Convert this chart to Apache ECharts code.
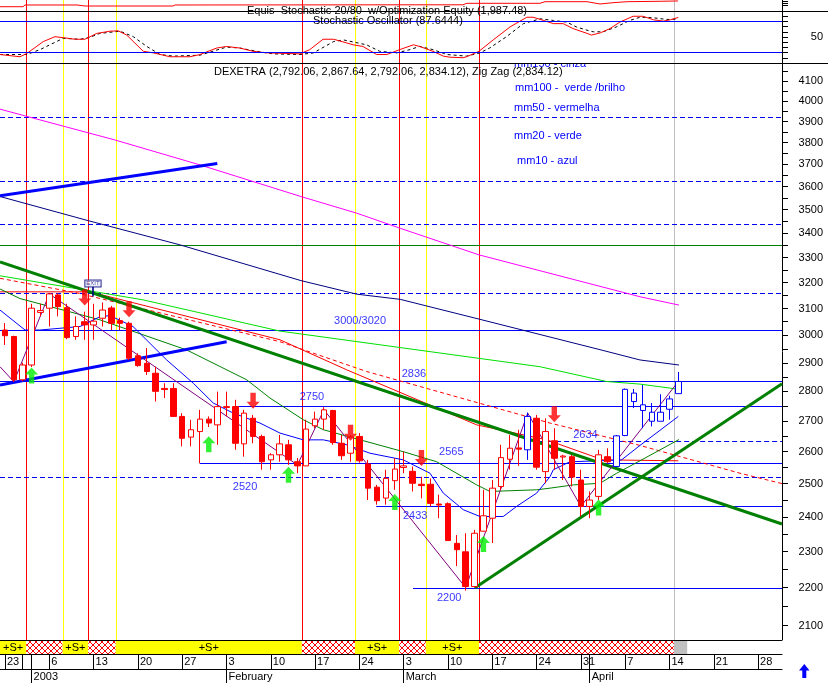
<!DOCTYPE html>
<html>
<head>
<meta charset="utf-8">
<script src="https://cdn.jsdelivr.net/npm/echarts@6.0.0/dist/echarts.min.js"></script>
<style>
html,body{margin:0;padding:0;background:#fff;}
#chart{width:828px;height:683px;}
</style>
</head>
<body>
<div id="chart"></div>
<script>
// ================= DATA =================
// trading-day index 0 = 26 Dec 2002 ... 76 = 15 Apr 2003
const candleOpen  = [3019,2995,2840,2892,3085,3101,3152,3103,2995,3050,3038,3063,3102,3054,3044,2925,2898,2863,2810,2810,2715,2647,2665,2706,2687,2745,2748,2625,2709,2649,2574,2590,2622,2568,2555,2684,2706,2735,2627,2595,2649,2561,2489,2456,2509,2550,2538,2498,2498,2438,2439,2323,2299,2203,2358,2396,2491,2576,2612,2606,2709,2537,2635,2583,2584,2511,2431,2461,2584,2553,2652,2794,2754,2729,2699,2739,2792.06];
const candleHigh  = [3045,2998,2900,3118,3118,3160,3158,3118,3070,3088,3118,3123,3110,3065,3050,2934,2953,2886,2828,2828,2726,2704,2737,2715,2799,2799,2771,2737,2720,2655,2595,2654,2638,2580,2704,2731,2746,2737,2654,2654,2660,2574,2496,2543,2579,2600,2553,2521,2516,2466,2443,2347,2352,2362,2481,2511,2622,2654,2671,2728,2720,2709,2676,2590,2590,2543,2476,2606,2611,2654,2810,2808,2822,2760,2790,2785,2867.64];
const candleLow   = [2964,2833,2835,2885,3070,3032,3070,2985,2983,2983,2983,3032,3019,3019,2910,2886,2857,2765,2777,2715,2617,2617,2563,2680,2622,2715,2606,2584,2627,2543,2543,2568,2558,2532,2555,2676,2671,2622,2574,2568,2565,2450,2436,2436,2481,2532,2476,2455,2431,2396,2331,2259,2192,2200,2357,2324,2481,2543,2555,2574,2543,2501,2543,2511,2491,2401,2396,2450,2563,2553,2650,2743,2676,2682,2699,2704,2792.06];
const candleClose = [2998,2840,2892,3101,3092,3156,3107,2991,3032,3038,3052,3094,3044,3044,2916,2890,2869,2800,2806,2715,2643,2671,2706,2693,2748,2748,2627,2726,2649,2568,2590,2625,2574,2555,2673,2706,2737,2629,2587,2647,2571,2486,2448,2516,2545,2555,2501,2494,2440,2435,2331,2305,2203,2352,2403,2486,2581,2611,2608,2715,2551,2665,2579,2586,2520,2431,2450,2590,2568,2651,2807,2765,2735,2699,2729,2774,2834.12];
const blueCandles = [59,69,70,71,72,73,74,75,76];

// moving averages / indicator lines: [trading-day index, price]
const ma10 = [[-0.56,3094],[2.26,3019],[3.95,3019],[8.47,3032],[10.72,3069],[11.85,3073],[14.45,3032],[18.25,2910],[21.25,2828],[23.51,2760],[25.77,2726],[28.78,2693],[31.04,2660],[33.67,2638],[35.93,2638],[38.57,2622],[41.2,2595],[44.95,2574],[47.97,2532],[49.47,2471],[51.73,2421],[53.61,2401],[56.24,2401],[57.75,2431],[60.01,2471],[61.51,2521],[61.89,2543],[63.77,2568],[67.16,2571],[69.6,2574],[71.67,2620],[76,2715]];
const ma20 = [[-0.56,3175],[1.69,3138],[10.72,3057],[20.51,2946],[27.28,2840],[29.91,2777],[33.67,2704],[35.93,2671],[44.95,2600],[48.72,2568],[53.24,2496],[54.74,2476],[60.01,2481],[61.51,2486],[64.14,2496],[67.16,2501],[69.04,2532],[71.67,2571],[76.07,2639]];
const ma50 = [[-0.56,3164],[9.59,3164],[31.04,2983],[38.57,2875],[53.24,2687],[61.14,2638],[67.49,2574],[76,2571]];
const ma50Projected = [[-0.56,3217],[8.09,3160],[31.04,2976],[40.82,2869],[61.51,2693],[71.67,2620],[82.96,2532],[87.7,2500]];
const ma100 = [[-0.56,3227],[15.58,3133],[31.04,3015],[60.38,2886],[67.91,2834],[71.67,2825],[76.07,2807]];
const ma150 = [[-0.56,3557],[9.4,3453],[19.75,3352],[33.4,3208],[39.7,3155],[44.6,3135],[53.6,3059],[67.16,2947],[71.67,2910],[76.07,2892]];
const ma200 = [[-0.56,3960],[2.82,3921],[12.4,3813],[22.0,3698],[33.4,3557],[39.7,3485],[44.6,3421],[53.5,3311],[71.67,3145],[76.07,3113]];
const zigZag = [[-0.56,2886],[1,2833],[5,3156],[33,2558],[36,2737],[52,2200],[59,2726],[65,2431],[76,2834.12]];

// trend lines: [index, price] end points
const blueTrendUpper = [[-0.564,3560],[23.96,3704]];
const blueTrendLower = [[-0.564,2822],[25.02,2976]];
const greenTrendDown = [[-0.564,3282],[87.7,2379]];
const greenTrendUp   = [[53.05,2200],[87.7,2826]];

// horizontal levels
const levelPrice = [3920,3625,3440,3350,3160,3020,2836,2750,2634,2565,2520,2433,2200];
const levelFrom  = [null,null,null,null,null,null,null,25.8,60.4,22,null,41.9,46.05];
const levelKind  = ['dash','dash','dash','green','dash','solid','solid','solid','dash','solid','dash','solid','solid'];
const levelLabelText  = ['3000/3020','2836','2750','2565','2520','2433','2200','2634'];
const levelLabelIdx   = [40.07,46.16,34.65,50.37,27.09,46.3,50.14,65.52];
const levelLabelPrice = [3053,2861,2782,2600,2491,2403,2171,2655];

// signals
const sellIdx = [9,14,28,39,47,62];
const sellPrice = [3142,3097,2768,2661,2580,2722];
const buyIdx = [3,23,32,44,54,67];
const buyPrice = [2855,2624,2527,2444,2321,2428];
const exitIdx = [9.93];
const exitPrice = [3146];

// stochastic panel
const stochK = [[-0.56,16.3],[1.69,12],[2.45,18.2],[4.32,41.2],[5.64,50.6],[6.58,48.7],[7.9,45.7],[9.03,45.7],[10.35,56.9],[11.85,61.2],[12.79,61.8],[13.74,53.7],[15.61,22.5],[16.74,19.5],[18.62,12],[20.88,12],[22.0,16.3],[23.9,28.8],[25.0,31.8],[26.5,28.8],[28.0,22.5],[29.5,19.5],[33.3,17.6],[34.4,25.7],[35.9,45.7],[37.1,45.7],[39.3,35],[40.4,31.8],[41.95,16.3],[43.1,16.3],[44.6,26],[46.1,35],[46.8,31.8],[48.3,22.5],[49.5,13.1],[50.2,11.2],[51.7,10.1],[52.1,12],[53.5,22.5],[55.1,44.4],[57.0,69.3],[58.9,88],[59.6,88],[60.8,81.8],[61.9,75.7],[63.0,75.7],[64.1,66.3],[65.7,56.9],[66.2,53.7],[67.2,58],[68.3,66.3],[69.4,78.7],[70.9,89.9],[72.0,89.9],[73.2,83.1],[74.3,80.5],[75.1,83.1],[76.0,87.64]];
const stochD = [[-0.56,16.3],[2.45,16.3],[3.95,25.7],[6.58,47.5],[8.47,45.6],[9.59,49.4],[10.7,56.9],[12.98,61.2],[14.48,50.6],[16.0,31.9],[17.5,16.3],[19.0,13.2],[22.0,15.0],[25.0,30.6],[26.5,28.8],[28.4,22.5],[30.3,17.5],[33.3,16.3],[34.8,19.4],[37.1,41.3],[38.2,44.4],[40.8,35.0],[42.3,22.5],[44.2,19.4],[45.7,25.7],[46.8,31.9],[48.3,25.7],[49.9,16.3],[52.1,13.2],[53.6,19.4],[54.7,28.8],[56.6,50.6],[58.5,75.6],[60.4,85.0],[61.9,81.8],[63.4,78.7],[64.5,69.3],[65.7,63.0],[66.4,60.0],[67.5,60.0],[69.0,69.3],[70.5,81.8],[71.7,88.1],[73.2,86.9],[74.7,83.7],[75.8,84.3]];
const stochLevels = [20,80];
const equity = [[-0.56,1960.3],[2.03,1960.3],[2.26,1968.4],[8.13,1968.4],[9.03,1963.6],[18.96,1963.6],[19.19,1968.4],[44.58,1969.3],[51.69,1969.3],[52.14,1976.4],[60.38,1976.4],[60.95,1984],[65.69,1984],[67.16,1973.1],[68.62,1979.2],[70.2,1984],[73.93,1985.9],[75.96,1987.48]];

// signal strip
const stripStart = [-0.564,2.4,6.5,9.4,12.5,33.5,39.5,44.5,47.5,53.5,75.5];
const stripEnd   = [2.4,6.5,9.4,12.5,33.5,39.5,44.5,47.5,53.5,75.5,77];
const stripKind  = ['S','X','S','X','S','X','S','X','S','X','G'];

// axes
const priceTicks = [];  for (let p = 2100; p <= 4150; p += 50) priceTicks.push(p);
const priceLabels = []; for (let p = 2100; p <= 4100; p += 100) priceLabels.push(p);
const stochTicks = [0,10,20,30,40,50,60,70,80,90,100];
const stochLabels = [50];
const dayTickIdx = [0,2,3,5,10,15,20,25,30,35,40,45,50,55,60,65,66,70,75,80,85];
const dayLabelIdx = [0,5,10,15,20,25,30,35,40,45,50,55,60,65,70,75,80,85];
const dayLabels = ['23','6','13','20','27','3','10','17','24','3','10','17','24','31','7','14','21','28'];
const monthIdx = [3,25,45,66];
const monthLabels = ['2003','February','March','April'];

// ================= CHART =================
const XMIN = -0.564, XMAX = 87.7, P_MIN = 2063, P_MAX = 4191;
const FONT = '"Liberation Sans", Arial, sans-serif';
const L = Math.log;
const toLn = pts => pts.map(p => [p[0], L(p[1])]);

const hatch = (() => {
  const c = document.createElement('canvas'); c.width = 6; c.height = 6;
  const g = c.getContext('2d');
  g.fillStyle = '#fff'; g.fillRect(0, 0, 6, 6);
  g.strokeStyle = '#ff0000'; g.lineWidth = 1;
  g.beginPath(); g.moveTo(0, 0); g.lineTo(6, 6); g.moveTo(6, 0); g.lineTo(0, 6); g.stroke();
  return c;
})();

const grids = [
  {left: 0, right: 46, top: 0, height: 11},
  {left: 0, right: 46, top: 11, height: 52},
  {left: 0, right: 46, top: 63, height: 577},
  {left: 0, right: 46, top: 640, height: 14},
  {left: 0, right: 46, top: 0, height: 640}
];
const hiddenX = g => ({type: 'value', gridIndex: g, min: XMIN, max: XMAX, show: false});
const axisLineBlack = {show: true, onZero: false, lineStyle: {color: '#000', width: 1}};

const candleData = candleOpen.map((o, i) => {
  const v = [i, L(o), L(candleClose[i]), L(candleLow[i]), L(candleHigh[i])];
  if (blueCandles.indexOf(i) >= 0) {
    return {value: v, itemStyle: {color: '#ffffff', color0: '#0000ff', borderColor: '#0000ff', borderColor0: '#0000ff'}};
  }
  return v;
});

function priceLine(pts, color, width, type, z) {
  return {type: 'line', xAxisIndex: 2, yAxisIndex: 2, data: toLn(pts), symbol: 'none', silent: true,
    lineStyle: {color: color, width: width, type: type || 'solid'}, z: z || 3};
}

const levelData = levelPrice.map((p, i) => [levelFrom[i] == null ? XMIN : levelFrom[i], XMAX, L(p), ['solid','dash','green'].indexOf(levelKind[i])]);
const vlineData = stripStart.slice(1).map((s, i) => [s, ['X','S','G'].indexOf(stripKind[i + 1])]);
const vColors = ['#ff0000', '#ffff00', '#c0c0c0'];

const upArrow = 'path://M6,0 L12,7 L8.5,7 L8.5,16 L3.5,16 L3.5,7 L0,7 Z';
const downArrow = 'path://M3.5,0 L8.5,0 L8.5,9 L12,9 L6,16 L0,9 L3.5,9 Z';

const option = {
  animation: false,
  backgroundColor: '#ffffff',
  textStyle: {fontFamily: FONT},
  grid: grids,
  xAxis: [
    hiddenX(0), hiddenX(1), hiddenX(2),
    {type: 'value', gridIndex: 3, min: XMIN, max: XMAX, position: 'bottom',
      axisLine: axisLineBlack,
      axisTick: {show: true, inside: false, length: 15, customValues: dayTickIdx, lineStyle: {color: '#000'}},
      axisLabel: {show: true, customValues: dayLabelIdx, formatter: v => dayLabels[dayLabelIdx.indexOf(Math.round(v))] || '',
        align: 'left', verticalAlign: 'middle', margin: 8, padding: [0, 0, 0, 2], color: '#000', fontSize: 11, fontFamily: FONT},
      splitLine: {show: false}},
    hiddenX(4),
    {type: 'value', gridIndex: 3, min: XMIN, max: XMAX, position: 'bottom', offset: 15,
      axisLine: axisLineBlack,
      axisTick: {show: true, length: 14, customValues: monthIdx, lineStyle: {color: '#000'}},
      axisLabel: {show: true, customValues: monthIdx, formatter: v => monthLabels[monthIdx.indexOf(Math.round(v))] || '',
        align: 'left', verticalAlign: 'middle', margin: 8, padding: [0, 0, 0, 2], color: '#000', fontSize: 11, fontFamily: FONT},
      splitLine: {show: false}}
  ],
  yAxis: [
    {type: 'value', gridIndex: 0, min: 1940, max: 1992, position: 'right', axisLine: axisLineBlack,
      axisTick: {show: true, length: 6, customValues: [1965, 1975, 1985], lineStyle: {color: '#000'}},
      axisLabel: {show: false}, splitLine: {show: false}},
    {type: 'value', gridIndex: 1, min: 0, max: 100, position: 'right', axisLine: axisLineBlack,
      axisTick: {show: true, length: 6, customValues: stochTicks, lineStyle: {color: '#000'}},
      axisLabel: {show: true, customValues: stochLabels, align: 'right', margin: 41, color: '#000', fontSize: 11, fontFamily: FONT},
      splitLine: {show: false}},
    {type: 'value', gridIndex: 2, min: L(P_MIN), max: L(P_MAX), position: 'right', axisLine: axisLineBlack,
      axisTick: {show: true, length: 6, customValues: priceTicks.map(L), lineStyle: {color: '#000'}},
      axisLabel: {show: true, customValues: priceLabels.map(L), formatter: v => String(Math.round(Math.exp(v))),
        align: 'right', margin: 41, color: '#000', fontSize: 11, fontFamily: FONT},
      splitLine: {show: false}},
    {type: 'value', gridIndex: 3, min: 0, max: 1, show: false},
    {type: 'value', gridIndex: 4, min: 0, max: 1, show: false}
  ],
  series: [
    // signal vertical lines through all panels
    {type: 'custom', xAxisIndex: 4, yAxisIndex: 4, silent: true, z: 1, data: vlineData,
      renderItem: (params, api) => {
        const x = Math.round(api.coord([api.value(0), 0])[0]) + 0.5;
        const top = api.coord([0, 1])[1], bot = api.coord([0, 0])[1];
        return {type: 'line', shape: {x1: x, y1: top, x2: x, y2: bot}, style: {stroke: vColors[api.value(1)], lineWidth: 1}};
      }},
    // equity curve
    {type: 'line', xAxisIndex: 0, yAxisIndex: 0, data: equity, symbol: 'none', silent: true,
      lineStyle: {color: '#ff0000', width: 1}, z: 3},
    // stochastic %K with 20/80 levels
    {type: 'line', xAxisIndex: 1, yAxisIndex: 1, data: stochK, symbol: 'none', silent: true,
      lineStyle: {color: '#ff0000', width: 1}, z: 4,
      markLine: {silent: true, symbol: ['none', 'none'], label: {show: false},
        lineStyle: {color: '#0000ff', type: 'solid', width: 1},
        data: stochLevels.map(v => ({yAxis: v}))}},
    {type: 'line', xAxisIndex: 1, yAxisIndex: 1, data: stochD, symbol: 'none', silent: true,
      lineStyle: {color: '#000', width: 1, type: [3, 3]}, z: 3},
    // horizontal levels
    {type: 'custom', xAxisIndex: 2, yAxisIndex: 2, silent: true, z: 2, data: levelData,
      renderItem: (params, api) => {
        const a = api.coord([api.value(0), api.value(2)]);
        const b = api.coord([api.value(1), api.value(2)]);
        const y = Math.round(a[1]) + 0.5;
        const k = api.value(3);
        return {type: 'line', shape: {x1: a[0], y1: y, x2: b[0], y2: y},
          style: {stroke: k === 2 ? '#008000' : '#0000ff', lineWidth: 1, lineDash: k === 1 ? [5, 3] : null}};
      }},
    // moving averages and trend lines
    priceLine(ma200, '#ff00ff', 1),
    priceLine(ma150, '#000080', 1),
    priceLine(ma100, '#00e000', 1),
    priceLine(ma50Projected, '#ff0000', 1, [4, 3]),
    priceLine(ma50, '#ff0000', 1),
    priceLine(ma20, '#008000', 1),
    priceLine(ma10, '#0000ff', 1),
    priceLine(blueTrendUpper, '#0000ff', 3),
    priceLine(blueTrendLower, '#0000ff', 3),
    priceLine(greenTrendDown, '#008000', 3),
    priceLine(greenTrendUp, '#008000', 3),
    priceLine(zigZag, '#800080', 1, 'solid', 4),
    // candles
    {type: 'candlestick', xAxisIndex: 2, yAxisIndex: 2, data: candleData, silent: true,
      dimensions: ['idx', 'open', 'close', 'lowest', 'highest'],
      encode: {x: 'idx', y: ['open', 'close', 'lowest', 'highest']},
      barWidth: 6, z: 5,
      itemStyle: {color: '#ffffff', color0: '#ff0000', borderColor: '#ff0000', borderColor0: '#ff0000', borderWidth: 1}},
    // signal arrows
    {type: 'scatter', xAxisIndex: 2, yAxisIndex: 2, silent: true, z: 6, symbol: downArrow, symbolSize: [13, 16],
      itemStyle: {color: '#ff0000'}, data: sellIdx.map((x, i) => [x, L(sellPrice[i])])},
    {type: 'scatter', xAxisIndex: 2, yAxisIndex: 2, silent: true, z: 6, symbol: upArrow, symbolSize: [13, 16],
      itemStyle: {color: '#00ee00'}, data: buyIdx.map((x, i) => [x, L(buyPrice[i])])},
    // exit flag
    {type: 'scatter', xAxisIndex: 2, yAxisIndex: 2, silent: true, z: 6, symbol: 'rect', symbolSize: [2, 10], symbolOffset: [0, -5],
      itemStyle: {color: '#000080'}, data: exitIdx.map((x, i) => [x, L(exitPrice[i])]),
      label: {show: true, position: 'top', distance: 0, formatter: 'EXIT', fontSize: 6, color: '#000080',
        backgroundColor: '#ffffff', borderColor: '#000080', borderWidth: 1, padding: [0, 1], lineHeight: 6}},
    // level labels
    {type: 'scatter', xAxisIndex: 2, yAxisIndex: 2, silent: true, z: 7, symbolSize: 1,
      itemStyle: {color: 'rgba(0,0,0,0)'}, data: levelLabelIdx.map((x, i) => [x, L(levelLabelPrice[i])]),
      label: {show: true, position: 'inside', formatter: p => levelLabelText[p.dataIndex],
        color: '#0000ff', fontSize: 11, fontFamily: FONT}},
    // signal strip
    {type: 'custom', xAxisIndex: 3, yAxisIndex: 3, silent: true, z: 2,
      data: stripStart.map((s, i) => [s, stripEnd[i]]),
      renderItem: (params, api) => {
        const k = stripKind[params.dataIndex];
        const a = api.coord([api.value(0), 0]);
        const b = api.coord([api.value(1), 1]);
        const cs = params.coordSys;
        const r = echarts.graphic.clipRectByRect(
          {x: a[0], y: b[1], width: b[0] - a[0], height: a[1] - b[1]},
          {x: cs.x, y: cs.y, width: cs.width, height: cs.height});
        if (!r) return;
        const fill = k === 'S' ? '#ffff00' : (k === 'G' ? '#c0c0c0' : {image: hatch, repeat: 'repeat'});
        const children = [{type: 'rect', shape: r, style: {fill: fill}}];
        if (k === 'S') children.push({type: 'text', style: {text: '+S+', x: r.x + r.width / 2, y: r.y + r.height / 2 + 0.5,
          align: 'center', verticalAlign: 'middle', font: '11px ' + FONT, fill: '#000'}});
        return {type: 'group', children: children};
      }}
  ],
  graphic: {elements: [
    {type: 'text', x: 247, y: 10.5, z: 100, style: {text: 'Equis  Stochastic 20/80  w/Optimization Equity (1,987.48)', font: '11px ' + FONT, fill: '#000', verticalAlign: 'middle'}},
    {type: 'text', x: 313, y: 21.3, z: 100, style: {text: 'Stochastic Oscillator (87.6444)', font: '11px ' + FONT, fill: '#000', verticalAlign: 'middle'}},
    {type: 'text', x: 214, y: 71.5, z: 100, style: {text: 'DEXETRA (2,792.06, 2,867.64, 2,792.06, 2,834.12), Zig Zag (2,834.12)', font: '11px ' + FONT, fill: '#000', verticalAlign: 'middle'}},
    {type: 'text', x: 514, y: 64.3, z: 100, style: {text: 'mm150 - cinza', font: '11px ' + FONT, fill: '#0000ff', verticalAlign: 'middle'}},
    {type: 'rect', z: 101, shape: {x: 510, y: 53, width: 90, height: 10}, style: {fill: '#ffffff'}},
    {type: 'text', x: 515, y: 87.7, z: 100, style: {text: 'mm100 -  verde /brilho', font: '11px ' + FONT, fill: '#0000ff', verticalAlign: 'middle'}},
    {type: 'text', x: 514, y: 107.7, z: 100, style: {text: 'mm50 - vermelha', font: '11px ' + FONT, fill: '#0000ff', verticalAlign: 'middle'}},
    {type: 'text', x: 514, y: 136, z: 100, style: {text: 'mm20 - verde', font: '11px ' + FONT, fill: '#0000ff', verticalAlign: 'middle'}},
    {type: 'text', x: 517, y: 161, z: 100, style: {text: 'mm10 - azul', font: '11px ' + FONT, fill: '#0000ff', verticalAlign: 'middle'}},
    {type: 'line', z: 102, shape: {x1: 0, y1: 11.5, x2: 828, y2: 11.5}, style: {stroke: '#000', lineWidth: 1}},
    {type: 'line', z: 102, shape: {x1: 0, y1: 63.5, x2: 828, y2: 63.5}, style: {stroke: '#000', lineWidth: 1}},
    {type: 'line', z: 102, shape: {x1: 0, y1: 640.5, x2: 782, y2: 640.5}, style: {stroke: '#000', lineWidth: 1}},
    {type: 'polygon', z: 102, shape: {points: [[804.3,664],[809.5,670.5],[806.3,670.5],[806.3,678],[802.3,678],[802.3,670.5],[799,670.5]]}, style: {fill: '#0000ff'}}
  ]}
};

const chart = echarts.init(document.getElementById('chart'), null, {renderer: 'canvas'});
chart.setOption(option);
</script>
</body>
</html>
